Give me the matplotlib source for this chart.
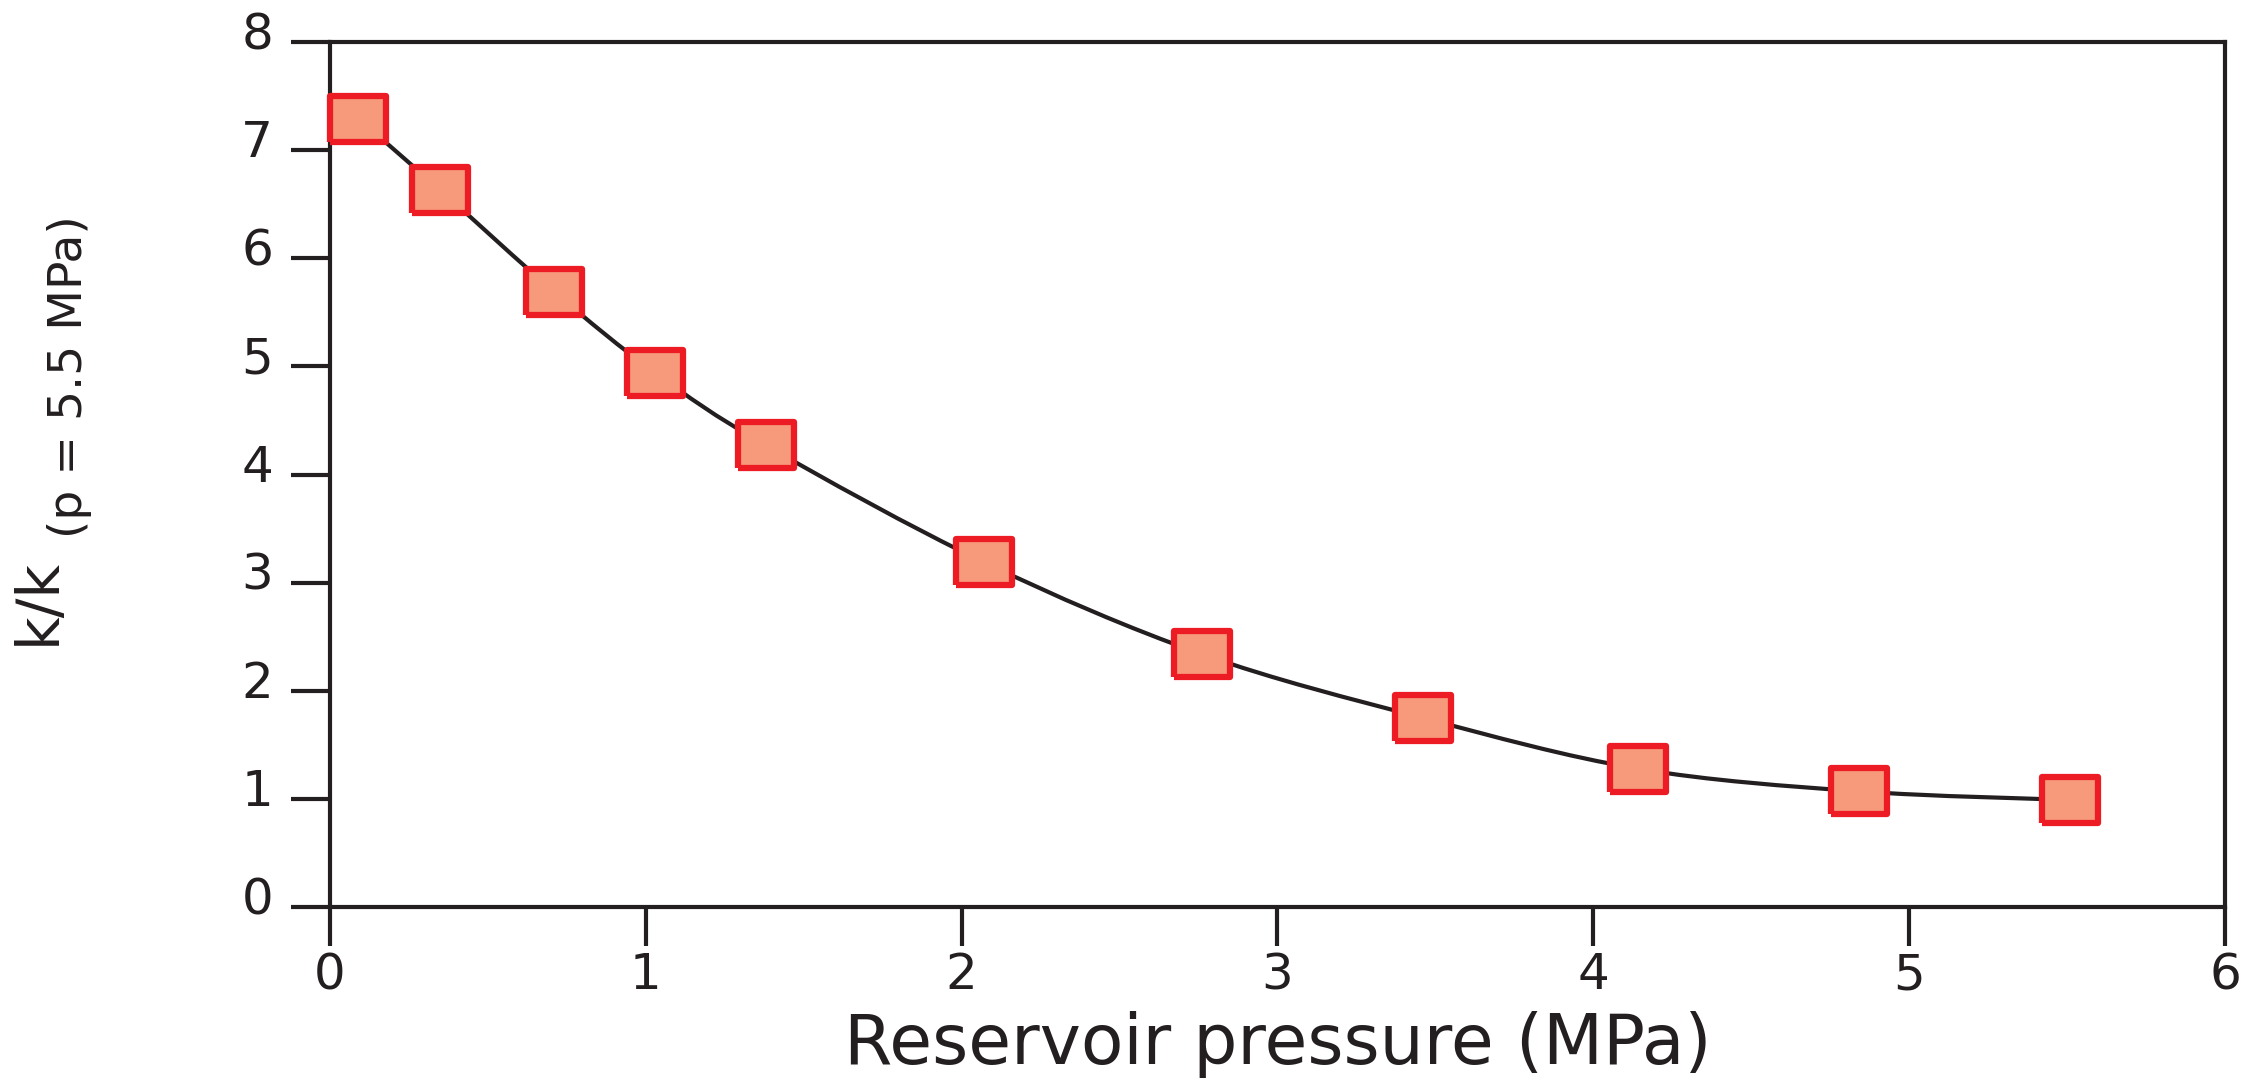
import numpy as np
import matplotlib
matplotlib.use("Agg")
import matplotlib.pyplot as plt
import matplotlib.transforms as mtransforms
from matplotlib.path import Path
from matplotlib.patches import PathPatch

# ===== Data =====
pressure = [0.09, 0.35, 0.71, 1.03, 1.38, 2.07, 2.76, 3.46, 4.14, 4.84, 5.51]   # MPa
k_ratio = [7.29, 6.63, 5.69, 4.94, 4.27, 3.19, 2.34, 1.75, 1.28, 1.07, 0.99]
x_ticks = [0, 1, 2, 3, 4, 5, 6]
y_ticks = [0, 1, 2, 3, 4, 5, 6, 7, 8]

INK = '#231F20'
FILL = '#F7997B'
EDGE = '#ED1C24'

fig = plt.figure(figsize=(22.63, 10.86), dpi=100)
ax = fig.add_axes([0.1458, 0.1648, 0.8374, 0.7965])

# smooth line through the points (bezier segments, catmull-rom style handles)
pts = np.column_stack([pressure, k_ratio])
verts = [pts[0]]; codes = [Path.MOVETO]
for i in range(len(pts) - 1):
    p0 = pts[i - 1] if i > 0 else pts[i]
    p1, p2 = pts[i], pts[i + 1]
    p3 = pts[i + 2] if i + 2 < len(pts) else pts[i + 1]
    verts += [p1 + (p2 - p0) / 6, p2 - (p3 - p1) / 6, p2]
    codes += [Path.CURVE4] * 3
ax.add_patch(PathPatch(Path(verts, codes), fill=False, ec=INK, lw=3, zorder=2))

# slightly wide square marker (the source image is stretched horizontally)
box = [(-1, -0.8), (1, -0.8), (1, 0.8), (-1, 0.8), (-1, -0.8)]
ax.plot(pressure, k_ratio, linestyle='none', marker=box, ms=41,
        mfc=FILL, mec=EDGE, mew=4.5, clip_on=False, zorder=3)

ax.set_xlim(0, 6); ax.set_ylim(0, 8)
ax.set_xticks(x_ticks); ax.set_yticks(y_ticks)

for s in ax.spines.values():
    s.set_linewidth(3); s.set_color(INK)
ax.tick_params(axis='both', direction='out', length=28, width=3, color=INK,
               labelsize=36, labelcolor=INK)
ax.tick_params(axis='x', pad=4)
ax.tick_params(axis='y', pad=13)

# y labels sit a bit above their ticks in the original
shift = mtransforms.ScaledTranslation(0, 12 / 100, fig.dpi_scale_trans)
for lab in ax.get_yticklabels():
    lab.set_transform(lab.get_transform() + shift)

ax.set_xlabel('Reservoir pressure (MPa)', fontsize=50, color=INK, labelpad=8)

# y label: k/k with a subscript, two rotated texts
fig.text(38 / 2263, 1 - 645 / 1086, 'k/k', rotation=90, fontsize=42,
         color=INK, ha='center', va='bottom')
fig.text(70 / 2263, 1 - 538 / 1086, '(p = 5.5 MPa)', rotation=90, fontsize=34,
         color=INK, ha='center', va='bottom')

fig.savefig('out.png', dpi=100, facecolor='white')
